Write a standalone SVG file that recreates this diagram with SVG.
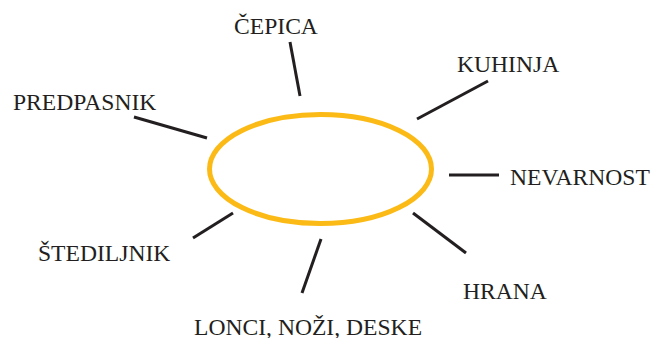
<svg xmlns="http://www.w3.org/2000/svg" width="668" height="338" viewBox="0 0 668 338">
<style>
.lbl{font-family:"Liberation Serif","Times New Roman",serif;font-size:23.6px;fill:#231F20}
.conn line{stroke:#231F20;stroke-width:3;stroke-linecap:butt}
</style>
<rect width="668" height="338" fill="#ffffff"/>
<g id="center">
<ellipse cx="320.5" cy="169" rx="111" ry="54.5" fill="none" stroke="#FBBA16" stroke-width="5"/>
</g>
<g id="connectors" class="conn">
<line x1="290" y1="42" x2="300" y2="96"/>
<line x1="488" y1="81" x2="417" y2="119"/>
<line x1="134" y1="117" x2="207" y2="138"/>
<line x1="449" y1="175" x2="499" y2="175"/>
<line x1="193" y1="238" x2="233" y2="213"/>
<line x1="413" y1="213" x2="466" y2="253"/>
<line x1="321" y1="239" x2="302" y2="293"/>
</g>
<g id="cepica"><text class="lbl" x="234" y="34">ČEPICA</text></g>
<g id="kuhinja"><text class="lbl" x="457" y="72">KUHINJA</text></g>
<g id="predpasnik"><text class="lbl" x="13" y="110">PREDPASNIK</text></g>
<g id="nevarnost"><text class="lbl" x="510" y="185">NEVARNOST</text></g>
<g id="stedilnik"><text class="lbl" x="38" y="261">ŠTEDILJNIK</text></g>
<g id="hrana"><text class="lbl" x="463" y="299">HRANA</text></g>
<g id="lonci"><text class="lbl" x="194" y="335">LONCI, NOŽI, DESKE</text></g>
</svg>
